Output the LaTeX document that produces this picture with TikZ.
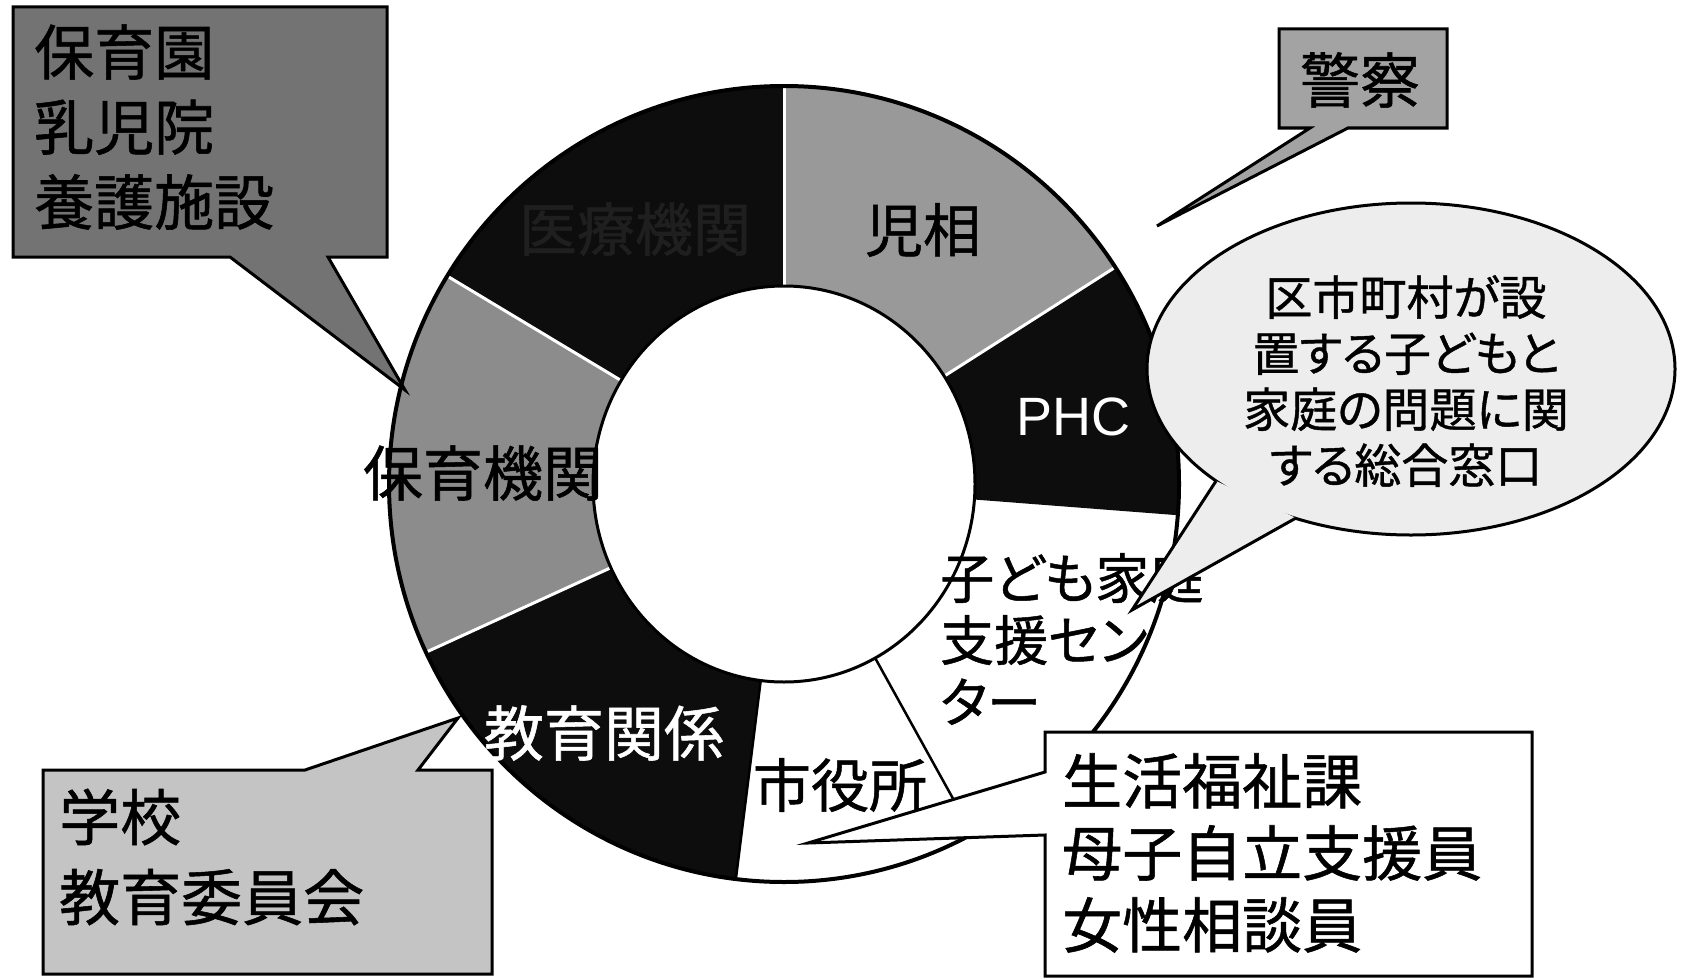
\documentclass[tikz,border=0pt]{standalone}
\usepackage{fontspec}
\newfontfamily\jp[RawFeature=+palt, FakeBold=0.9]{Noto Sans CJK JP}
\newfontfamily\latn{Liberation Sans}
\definecolor{jisouc}{gray}{0.60}
\definecolor{hoikuc}{gray}{0.55}
\definecolor{darkc}{gray}{0.05}
\definecolor{boxa}{gray}{0.45}
\definecolor{boxb}{gray}{0.64}
\definecolor{boxc}{gray}{0.77}
\definecolor{ellc}{gray}{0.93}
\newcommand\ringseg[3]{\fill[#3] (#1:395 and 398) arc[start angle=#1,end angle=#2,x radius=395,y radius=398] -- (#2:191 and 198) arc[start angle=#2,end angle=#1,x radius=191,y radius=198] -- cycle;}
\begin{document}
\begin{tikzpicture}[x=1pt,y=-1pt,
  callout/.style={draw=black, line width=3pt, line join=miter},
  lbl/.style={inner sep=0pt, text=black},
  sepw/.style={draw=white, line width=3pt},
  sepb/.style={draw=black, line width=2.5pt}]
\useasboundingbox (0,0) rectangle (1685,979);
\fill[white] (0,0) rectangle (1685,979);
% ---------- ring ----------
\begin{scope}[shift={(784,484)}, x=1pt, y=1pt]
  \ringseg{33}{90}{jisouc}
  \ringseg{90}{148.5}{darkc}
  \ringseg{148.5}{205}{hoikuc}
  \ringseg{205}{263}{darkc}
  \ringseg{263}{298.5}{white}
  \ringseg{298.5}{355.5}{white}
  \ringseg{355.5}{393}{darkc}
  \draw[sepw] (90:191 and 198) -- (90:395 and 398);
  \draw[sepw] (33:191 and 198) -- (33:395 and 398);
  \draw[sepw] (148.5:191 and 198) -- (148.5:395 and 398);
  \draw[sepw] (205:191 and 198) -- (205:395 and 398);
  \draw[sepb] (298.5:191 and 198) -- (298.5:395 and 398);
  \draw[sepb] (263:191 and 198) -- (263:395 and 398);
  \draw[black, line width=4pt] (0,0) ellipse [x radius=395, y radius=398];
  \draw[black, line width=3pt] (0,0) ellipse [x radius=191, y radius=198];
\end{scope}
% ---------- ring labels ----------
\node[lbl, text=black!88, font=\jp\fontsize{58}{70}\selectfont] (iryo) at (635,229) {医療機関};
\node[lbl, font=\jp\fontsize{58}{70}\selectfont] (jisou) at (923,230) {児相};
\node[lbl, text=white, font=\latn\fontsize{54}{64}\selectfont] (phc) at (1073,417) {PHC};
\node[lbl, font=\jp\fontsize{60}{72}\selectfont] (hoiku) at (483,473) {保育機関};
\node[lbl, text=white, font=\jp\fontsize{60}{72}\selectfont] (kyoiku) at (604,733) {教育関係};
\node[lbl, font=\jp\fontsize{58}{70}\selectfont] (shiyaku) at (840,785) {市役所};
\node[lbl, anchor=west, align=left, font=\jp\fontsize{54}{62}\selectfont] (kodomo) at (940,639) {子ども家庭\\支援セン\\ター};
% ---------- callouts ----------
\path[callout, fill=boxa] (13,7) -- (387,7) -- (387,257) -- (328,257) -- (405,390) -- (230,257) -- (13,257) -- cycle;
\path[callout, fill=boxb] (1279,29) -- (1447,29) -- (1447,128) -- (1348,128) -- (1157,226) -- (1310,128) -- (1279,128) -- cycle;
\path[callout, fill=boxc] (43,770) -- (305,770) -- (458,718) -- (418,770) -- (492,770) -- (492,974) -- (43,974) -- cycle;
\path[callout, fill=white] (1045,732) -- (1532,732) -- (1532,976) -- (1045,976) -- (1045,835) -- (808,843) -- (1045,772) -- cycle;
\filldraw[fill=ellc, draw=black, line width=3pt] (1411,369) ellipse [x radius=264pt, y radius=166pt];
\fill[ellc] (1216,481) -- (1132,610) -- (1296,518) -- cycle;
\draw[black, line width=3pt, line join=miter] (1216,481) -- (1132,610) -- (1296,518);
% ---------- callout labels ----------
\node[lbl, anchor=west, align=left, font=\jp\fontsize{60}{75}\selectfont] (hoikuen) at (34,127) {保育園\\乳児院\\養護施設};
\node[lbl, font=\jp\fontsize{60}{72}\selectfont] (keisatsu) at (1360,80) {警察};
\node[lbl, anchor=west, align=left, font=\jp\fontsize{61}{80}\selectfont] (gakko) at (59,857) {学校\\教育委員会};
\node[lbl, anchor=west, align=left, font=\jp\fontsize{60}{72}\selectfont] (seikatsu) at (1062,853) {生活福祉課\\母子自立支援員\\女性相談員};
\node[lbl, align=center, font=\jp\fontsize{47}{56}\selectfont] (madoguchi) at (1406,381) {区市町村が設\\置する子どもと\\家庭の問題に関\\する総合窓口};
\end{tikzpicture}
\end{document}
